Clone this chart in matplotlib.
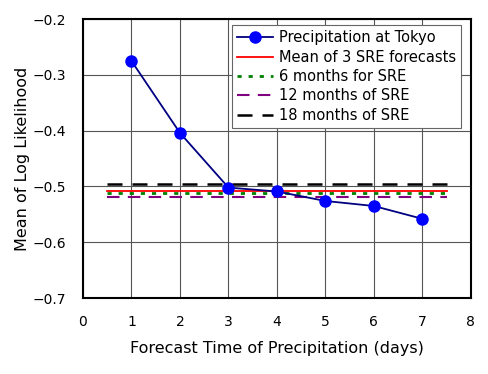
import matplotlib
matplotlib.use('Agg')
import matplotlib.pyplot as plt

plt.rcParams['font.family'] = ['DejaVu Sans']

# data
days = [1, 2, 3, 4, 5, 6, 7]
tokyo = [-0.275, -0.404, -0.502, -0.509, -0.526, -0.535, -0.558]
span = [0.5, 7.5]
mean3 = -0.509
sre6 = -0.511
sre12 = -0.519
sre18 = -0.496

fig = plt.figure(figsize=(4.88, 3.74), dpi=100)
ax = fig.add_axes([0.170, 0.203, 0.795, 0.746])

ax.plot(days, tokyo, color='#000080', lw=1.3, marker='o', ms=8,
        mfc='#0000ff', mec='#0000ff', label='Precipitation at Tokyo', zorder=5)
ax.plot(span, [mean3] * 2, color='red', lw=1.3, label='Mean of 3 SRE forecasts')
ax.plot(span, [sre6] * 2, color='green', lw=2, ls=(0, (1.5, 2.5)), label='6 months for SRE')
ax.plot(span, [sre12] * 2, color='purple', lw=1.5, ls=(0, (6, 4)), label='12 months of SRE')
ax.plot(span, [sre18] * 2, color='black', lw=1.8, ls=(0, (6, 4)), label='18 months of SRE')

ax.set_xlim(0, 8)
ax.set_ylim(-0.7, -0.2)
ax.set_xticks(range(0, 9))
ax.set_yticks([-0.7, -0.6, -0.5, -0.4, -0.3, -0.2])
ax.set_yticklabels(['\u22120.7', '\u22120.6', '\u22120.5', '\u22120.4', '\u22120.3', '\u22120.2'])
ax.grid(True, color='#555555', lw=0.8)
ax.tick_params(length=0, labelsize=10, pad=12, axis='x')
ax.tick_params(length=0, labelsize=10, pad=12, axis='y')
for s in ax.spines.values():
    s.set_linewidth(1.5)

ax.set_xlabel('Forecast Time of Precipitation (days)', fontsize=11.5, labelpad=9)
ax.set_ylabel('Mean of Log Likelihood', fontsize=11.5)
ax.yaxis.set_label_coords(-0.137, 0.5)

leg = ax.legend(loc='upper right', bbox_to_anchor=(0.974, 0.978), borderaxespad=0,
                fontsize=10.5, fancybox=False, framealpha=1, edgecolor='#666666',
                handlelength=2.5, labelspacing=0.3, borderpad=0.35, handletextpad=0.35)
leg.get_frame().set_linewidth(0.8)

fig.savefig('out.png', dpi=100)
